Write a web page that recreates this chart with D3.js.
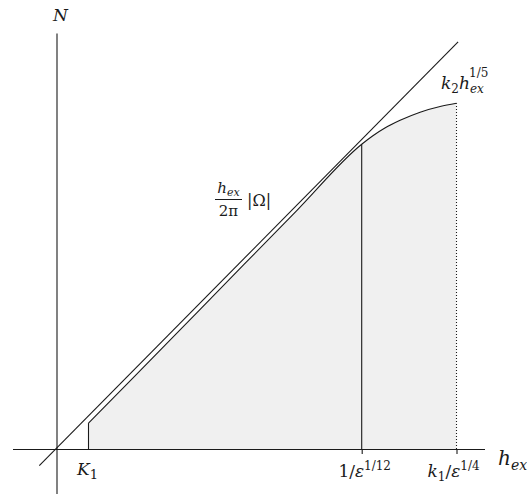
<!DOCTYPE html>
<html>
<head>
<meta charset="utf-8">
<script src="https://cdn.jsdelivr.net/npm/d3@7"></script>
<style>
  body { margin: 0; background: #fff; }
</style>
</head>
<body>
<svg id="canvas" width="527" height="494"></svg>
<script>
// data (h, N)
var K1 = 0.8, hA = 7.63, hB = 10;
var tickValues = [hA, hB];
var diagonal = [[-0.43, -0.41], [10.04, 10.03]];
var boundary = [[0.8, 0.64], [2, 1.84], [3.5, 3.35], [6, 5.87], [7.63, 7.51], [7.91, 7.72],
                [8.21, 7.91], [8.59, 8.10], [9.09, 8.30], [9.59, 8.44], [10, 8.52]];

var svg = d3.select('#canvas');
var ink = '#1a1a1a';
var serif = 'DejaVu Serif';

var x = d3.scaleLinear().domain([-1.1, 10.7]).range([12.5, 484.5]);
var y = d3.scaleLinear().domain([-1.1, 10.25]).range([493.7, 33]);

var line_gen = d3.line().x((d) => x(d[0])).y((d) => y(d[1])).curve(d3.curveMonotoneX);
var area_gen = d3.area().x((d) => x(d[0])).y0(y(0)).y1((d) => y(d[1])).curve(d3.curveMonotoneX);

// ************************************************************************************************** //
// shaded region

svg.append('path').attr('d', area_gen(boundary)).style('fill', '#f0f0f0').style('stroke', 'none');

// ************************************************************************************************** //
// axes

svg.append('g').attr('transform', 'translate(0,' + y(0) + ')')
  .call(d3.axisBottom(x).tickValues(tickValues).tickSizeInner(5).tickSizeOuter(0).tickFormat(''));
svg.append('g').attr('transform', 'translate(' + x(0) + ',0)')
  .call(d3.axisLeft(y).tickValues([]).tickSizeOuter(0));
svg.selectAll('.domain, .tick line').style('stroke', ink).style('stroke-width', 1.1);

// ************************************************************************************************** //
// lines

svg.append('line')
  .attr('x1', x(diagonal[0][0])).attr('y1', y(diagonal[0][1]))
  .attr('x2', x(diagonal[1][0])).attr('y2', y(diagonal[1][1]))
  .style('stroke', ink).style('stroke-width', 1.1);

svg.append('path').attr('d', line_gen(boundary)).style('fill', 'none').style('stroke', ink).style('stroke-width', 1.1);

var first = boundary[0], split = boundary[4], last = boundary[boundary.length - 1];
svg.append('line').attr('x1', x(first[0])).attr('x2', x(first[0])).attr('y1', y(0)).attr('y2', y(first[1]))
  .style('stroke', ink).style('stroke-width', 1.1);
svg.append('line').attr('x1', x(split[0])).attr('x2', x(split[0])).attr('y1', y(0)).attr('y2', y(split[1]))
  .style('stroke', ink).style('stroke-width', 1.1);
svg.append('line').attr('x1', x(last[0])).attr('x2', x(last[0])).attr('y1', y(0)).attr('y2', y(last[1]))
  .style('stroke', ink).style('stroke-width', 1.1).style('stroke-dasharray', '1,2');

// ************************************************************************************************** //
// labels

function label(px, py, anchor, size, parts){
  var t = svg.append('text').attr('x', px).attr('y', py).attr('text-anchor', anchor)
    .attr('font-family', serif).style('font-size', size + 'px').style('fill', ink);
  parts.forEach((p) => {
    var s = t.append('tspan').text(p.t);
    if(p.i) s.style('font-style', 'italic');
    if(p.s) s.style('font-size', p.s + 'px');
    if(p.dx) s.attr('dx', p.dx);
    if(p.dy) s.attr('dy', p.dy);
  });
  return t;
}

label(x(0) + 4, 21, 'middle', 17, [{ t: 'N', i: 1 }]);
label(498, 465, 'start', 20, [{ t: 'h', i: 1 }, { t: 'ex', i: 1, s: 14, dy: 5 }]);
label(x(K1) - 1, 475, 'middle', 17, [{ t: 'K', i: 1 }, { t: '1', s: 13, dy: 4 }]);
label(x(hA) + 3, 477, 'middle', 17, [{ t: '1/' }, { t: 'ε', i: 1 }, { t: '1/12', s: 12, dy: -7 }]);
label(x(hB) - 3, 477, 'middle', 17, [{ t: 'k', i: 1 }, { t: '1', s: 12, dy: 4 }, { t: '/', dy: -4 }, { t: 'ε', i: 1 }, { t: '1/4', s: 12, dy: -7 }]);
label(441, 89, 'start', 17, [{ t: 'k', i: 1 }, { t: '2', s: 12, dy: 4 }, { t: 'h', i: 1, dy: -4 }, { t: 'ex', i: 1, s: 12, dy: 4 }]);
label(469, 77, 'start', 12, [{ t: '1/5' }]);

// fraction h_ex / 2π |Ω|
label(228.5, 193, 'middle', 15, [{ t: 'h', i: 1 }, { t: 'ex', i: 1, s: 11, dy: 3 }]);
svg.append('line').attr('x1', 215).attr('x2', 242).attr('y1', 199.5).attr('y2', 199.5).style('stroke', ink).style('stroke-width', 1);
label(228.5, 216, 'middle', 15, [{ t: '2π' }]);
label(247, 206, 'start', 16, [{ t: '|Ω|' }]);
</script>
</body>
</html>
